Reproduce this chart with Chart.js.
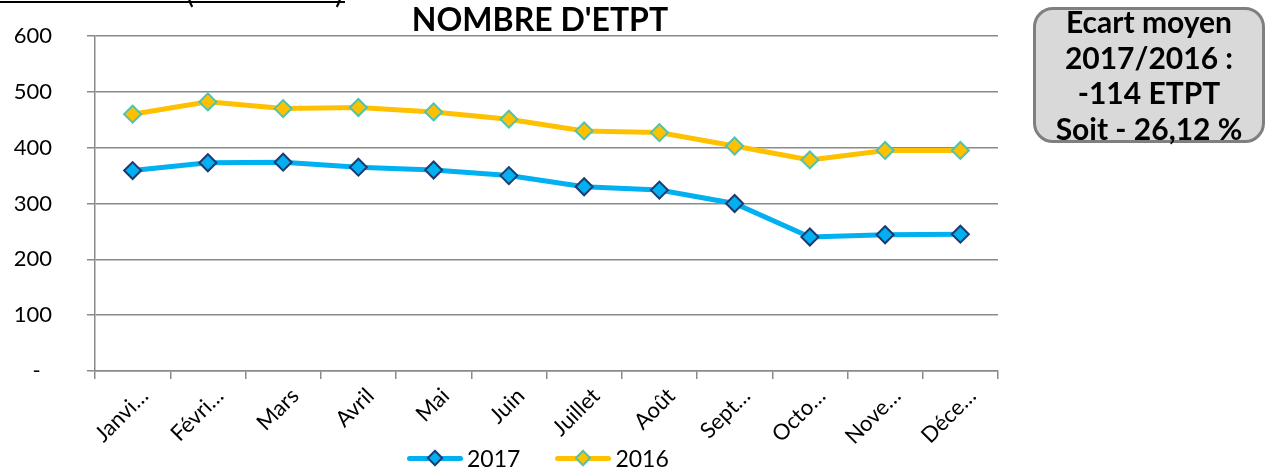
<!DOCTYPE html>
<html>
<head>
<meta charset="utf-8">
<script src="https://cdn.jsdelivr.net/npm/chart.js@4.4.0/dist/chart.umd.min.js"></script>
<style>
  html, body { margin: 0; padding: 0; background: #fff; }
  #wrap { position: relative; width: 1268px; height: 469px; overflow: hidden; font-family: Lato, sans-serif; }
  #chart { position: absolute; left: 0; top: 0; }
  #cut { position: absolute; left: 0; top: 1px; width: 345px; border-top: 2px solid #000; }
  #cut span { position: absolute; top: -30px; font-size: 30px; }
  #title {
    position: absolute; left: 340px; width: 400px; top: 0px; text-align: center;
    font-weight: bold; font-size: 32px; line-height: 38px; color: #000;
  }
  #note {
    position: absolute; left: 1033px; top: 7px; width: 232px; height: 136px;
    box-sizing: border-box; background: #d9d9d9; border: 3px solid #7f7f7f; border-radius: 20px;
    text-align: center; font-weight: bold; font-size: 30px; line-height: 35.5px; color: #000;
    white-space: nowrap;
  }
  #note div { position: relative; top: -6px; margin-left: -10px; margin-right: -10px; }
  #legend { position: absolute; left: 407px; top: 447px; margin: 0; padding: 0; list-style: none; display: flex; }
</style>
</head>
<body>
<div id="wrap">
  <canvas id="chart" width="1268" height="469"></canvas>
  <div id="cut"><span style="left:186px">(</span><span style="left:335px">)</span></div>
  <div id="title">NOMBRE D'ETPT</div>
  <div id="note"><div>Ecart moyen<br>2017/2016 :<br>-114 ETPT<br>Soit - 26,12 %</div></div>
  <ul id="legend"></ul>
</div>
<script>
// Data
const months = ['Janvi…', 'Févri…', 'Mars', 'Avril', 'Mai', 'Juin', 'Juillet', 'Août', 'Sept…', 'Octo…', 'Nove…', 'Déce…'];
const yTickLabels = ['-  ', '100', '200', '300', '400', '500', '600'];
const etpt2017 = [359, 373, 374, 365, 360, 350, 330, 324, 300, 240, 244, 245];
const etpt2016 = [460, 482, 470, 472, 464, 451, 430, 427, 403, 378, 395, 395];

const FONT = 'Lato';
const GRID = '#8a8a8a';

const ctx = document.getElementById('chart');

const chart = new Chart(ctx, {
  type: 'line',
  data: {
    labels: months,
    datasets: [
      // Blue line
      {
        label: '2017',
        data: etpt2017,
        borderColor: '#00b0f0',
        borderWidth: 5,
        tension: 0,
        pointStyle: 'rectRot',
        pointRadius: 8.5,
        pointBorderWidth: 2,
        pointBackgroundColor: '#00b0f0',
        pointBorderColor: '#1f3a70',
      },
      // Orange line
      {
        label: '2016',
        data: etpt2016,
        borderColor: '#ffc000',
        borderWidth: 5,
        tension: 0,
        pointStyle: 'rectRot',
        pointRadius: 8.5,
        pointBorderWidth: 2,
        pointBackgroundColor: '#ffc000',
        pointBorderColor: '#4fc3b0',
      },
    ],
  },
  options: {
    responsive: false,
    animation: false,
    devicePixelRatio: 1,
    layout: {
      padding: { left: 0, right: 270, top: 36, bottom: 0 },
    },
    scales: {
      y: {
        min: 0,
        max: 600,
        ticks: {
          stepSize: 100,
          padding: 35,
          color: '#000',
          font: { family: FONT, size: 22 },
          callback: (value, index) => yTickLabels[index],
        },
        grid: { color: GRID, lineWidth: 1.5, tickLength: 8 },
        border: { color: GRID, width: 1.5 },
        afterFit: (scale) => {
          scale.width = 95;
          // the label padding would otherwise push the plot top down
          scale.paddingTop = 0;
          scale.paddingBottom = 0;
        },
      },
      x: {
        offset: true,
        ticks: {
          autoSkip: false,
          minRotation: 45,
          maxRotation: 45,
          padding: 4,
          labelOffset: 12,
          color: '#000',
          font: { family: FONT, size: 22 },
        },
        grid: { offset: true, drawOnChartArea: false, color: GRID, lineWidth: 1.5, tickLength: 8 },
        border: { color: GRID, width: 1.5 },
        afterFit: (scale) => { scale.height = 98; },
      },
    },
    plugins: {
      legend: { display: false },
      tooltip: { enabled: false },
      htmlLegend: { containerID: 'legend' },
    },
  },
  plugins: [{
    id: 'htmlLegend',
    afterUpdate(c, args, options) {
      const ul = document.getElementById(options.containerID);
      if (!ul) return;
      while (ul.firstChild) {
        ul.firstChild.remove();
      }
      c.data.datasets.forEach((ds, i) => {
        const li = document.createElement('li');
        li.style.display = 'flex';
        li.style.alignItems = 'center';
        li.style.marginRight = i === 0 ? '35px' : '0';
        // Line with its marker
        const swatch = document.createElement('span');
        swatch.style.position = 'relative';
        swatch.style.display = 'block';
        swatch.style.width = '56px';
        swatch.style.height = '22px';
        const line = document.createElement('span');
        line.style.position = 'absolute';
        line.style.left = '0';
        line.style.top = '8.5px';
        line.style.width = '56px';
        line.style.height = '5px';
        line.style.borderRadius = '3px';
        line.style.background = ds.borderColor;
        const mark = document.createElement('span');
        mark.style.position = 'absolute';
        mark.style.left = '22px';
        mark.style.top = '5px';
        mark.style.width = '12px';
        mark.style.height = '12px';
        mark.style.boxSizing = 'border-box';
        mark.style.transform = 'rotate(45deg)';
        mark.style.background = ds.pointBackgroundColor;
        mark.style.border = '2px solid ' + ds.pointBorderColor;
        swatch.appendChild(line);
        swatch.appendChild(mark);
        // Label
        const label = document.createElement('span');
        label.style.marginLeft = '4px';
        label.style.fontFamily = FONT;
        label.style.fontSize = '23px';
        label.style.lineHeight = '22px';
        label.style.color = '#000';
        label.textContent = ds.label;
        li.appendChild(swatch);
        li.appendChild(label);
        ul.appendChild(li);
      });
    },
  }],
});
</script>
</body>
</html>
